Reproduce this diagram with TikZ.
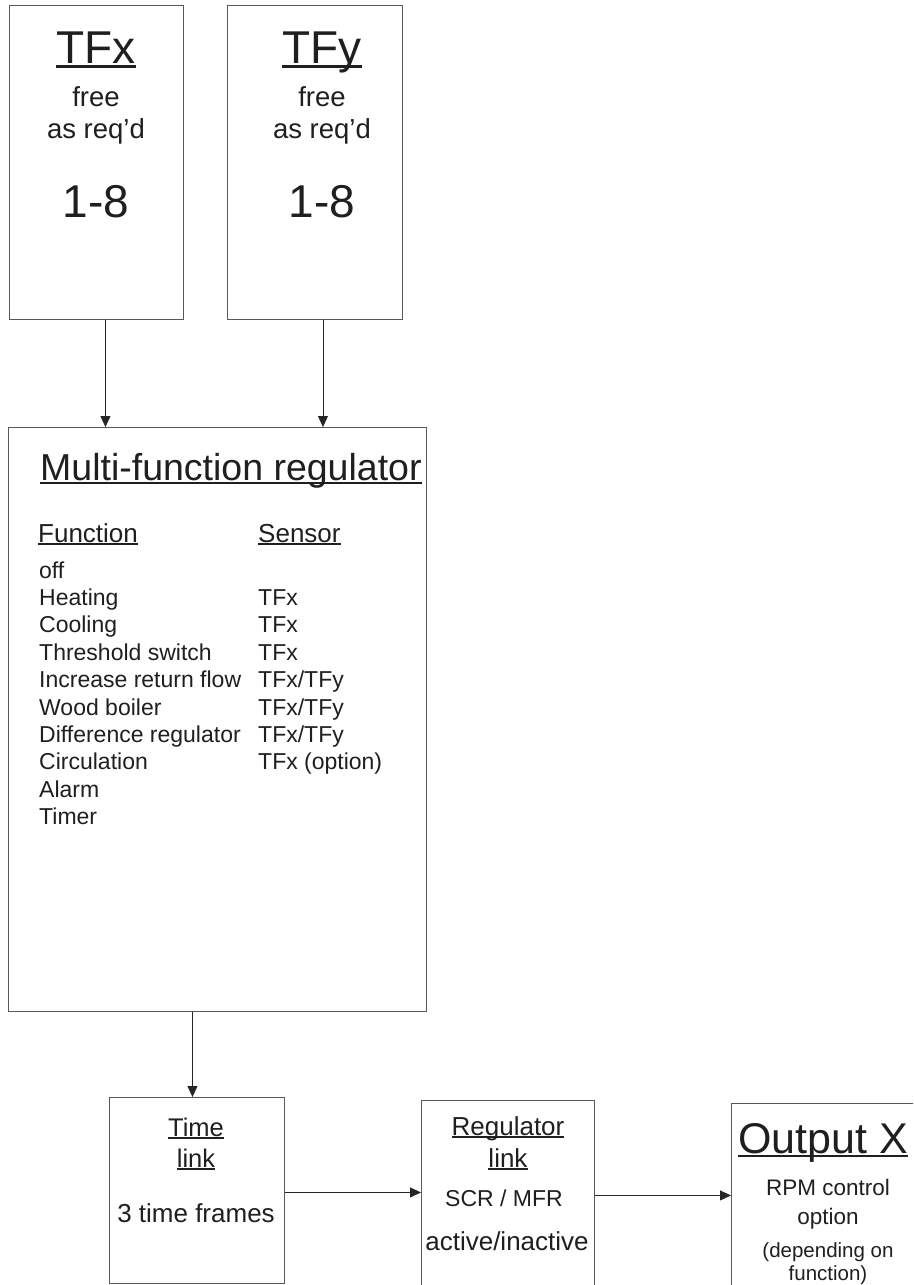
\documentclass[tikz,border=0pt]{standalone}
\usepackage{fontspec}
\setmainfont{Liberation Sans}
\usetikzlibrary{arrows.meta}
\newcommand{\undl}[1]{\setbox0\hbox{#1}\rlap{\rule[-0.1em]{\wd0}{0.055em}}\box0}

\begin{document}
\begin{tikzpicture}[x=1pt,y=-1pt,
  box/.style={draw=black!65, line width=0.9pt, anchor=north west, inner sep=0pt},
  arr/.style={black!85, line width=0.8pt, -{Triangle[length=11pt,width=10pt]}},
  txt/.style={font=\fontsize{#1}{#1}\selectfont, text=black!88, inner sep=0pt, anchor=base},
  ltxt/.style={txt=#1, anchor=base west}]
\useasboundingbox (0,0) rectangle (913,1285);
\fill[white] (0,0) rectangle (913,1285);
\clip (0,0) rectangle (913,1285);

% boxes
\node[box, minimum width=174pt, minimum height=314pt] (tfx) at (9,5) {};
\node[box, minimum width=175pt, minimum height=314pt] (tfy) at (227,5) {};
\node[box, minimum width=418pt, minimum height=584pt] (multi) at (8,427) {};
\node[box, minimum width=175pt, minimum height=186pt] (tlink) at (109,1097) {};
\node[box, minimum width=173pt, minimum height=190pt] (rlink) at (421,1100) {};
\node[box, minimum width=200pt, minimum height=200pt] (outx) at (731,1103) {};

% sensor boxes text
\foreach \nm/\lbl/\cx in {tfx/TFx/96, tfy/TFy/322} {
 \node[txt=46] (\nm-title) at (\cx,63) {\undl{\lbl}};
 \node[txt=27.5] (\nm-free) at (\cx,106) {free};
 \node[txt=27.5] (\nm-req) at (\cx,138) {as req'd};
 \node[txt=46] (\nm-range) at (\cx,217) {1-8};
}

% regulator text
\node[ltxt=37.5] (multi-title) at (40,480) {\undl{Multi-function regulator}};
\node[ltxt=26] (fn-head) at (38,542) {\undl{Function}};
\node[ltxt=26] (sn-head) at (258,542) {\undl{Sensor}};
\foreach \fn [count=\i from 0] in {off,Heating,Cooling,Threshold switch,Increase return flow,Wood boiler,Difference regulator,Circulation,Alarm,Timer}
 \node[ltxt=23] (fn\i) at (39,{578+27.4*\i}) {\fn};
\foreach \i/\sn in {1/TFx,2/TFx,3/TFx,4/{TFx/TFy},5/{TFx/TFy},6/{TFx/TFy},7/{TFx (option)}}
 \node[ltxt=23] (sn\i) at (258,{578+27.4*\i}) {\sn};

% time link
\node[txt=25.5] (tl-a) at (196,1136) {\undl{Time}};
\node[txt=25.5] (tl-b) at (196,1167) {\undl{link}};
\node[txt=26] (tl-c) at (196,1222) {3 time frames};

% regulator link
\node[txt=26] (rl-a) at (508,1135) {\undl{Regulator}};
\node[txt=26] (rl-b) at (508,1167) {\undl{link}};
\node[txt=23] (rl-c) at (504,1206) {SCR / MFR};
\node[txt=26] (rl-d) at (507,1250) {active/inactive};

% output
\node[ltxt=43] (ox-a) at (738,1153) {\undl{Output X}};
\node[txt=22.5] (ox-b) at (828,1195) {RPM control};
\node[txt=22.5] (ox-c) at (828,1224) {option};
\node[txt=20.5] (ox-d) at (828,1257) {(depending on};
\node[txt=20.5] (ox-e) at (828,1280) {function)};

% arrows
\draw[arr] ([xshift=9pt]tfx.south) -- ([xshift=9pt]tfx.south |- multi.north);
\draw[arr] ([xshift=8pt]tfy.south) -- ([xshift=8pt]tfy.south |- multi.north);
\draw[arr] ([xshift=-4.5pt]tlink.north |- multi.south) -- ([xshift=-4.5pt]tlink.north);
\draw[arr] ([yshift=-2pt]tlink.east) -- ([yshift=-2pt]tlink.east -| rlink.west);
\draw[arr] (rlink.east) -- (rlink.east -| outx.west);
\end{tikzpicture}
\end{document}
